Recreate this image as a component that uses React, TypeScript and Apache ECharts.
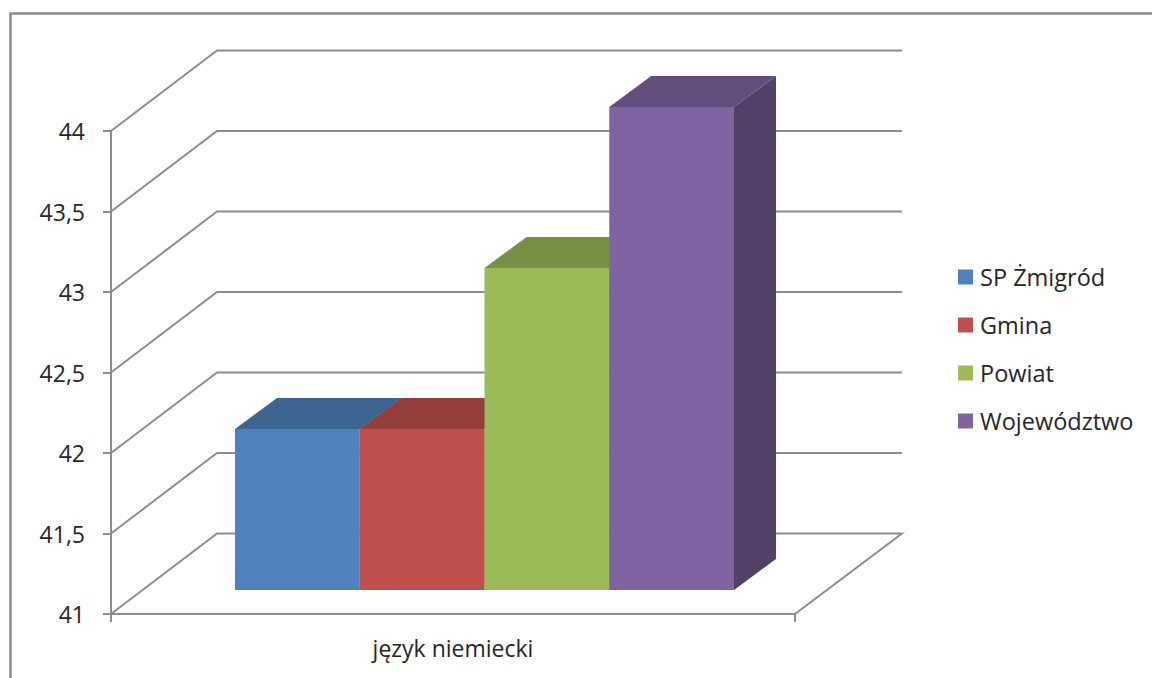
import React, { useEffect, useRef } from "react";
import * as echarts from "echarts";

const categories = ["język niemiecki"];
const seriesNames = ["SP Żmigród", "Gmina", "Powiat", "Województwo"];
const seriesValues = [42, 42, 43, 44];
const frontColors = ["#4F81BD", "#C0504D", "#9BBB59", "#8064A2"];
const topColors = ["#3D6391", "#943E3B", "#779045", "#634D7D"];
const sideColors = ["#324F74", "#7B3331", "#627738", "#524067"];
const wallTicks = [41, 41.5, 42, 42.5, 43, 43.5, 44];

const LINE = "#8C8C8C";
const TEXT = "#262626";
const FONT = "Open Sans";
const WALL_DX = 106;
const WALL_DY = -80.5;
const BAR_DX = 42;
const BAR_DY = -31;
const BAR_LIFT = -24;
const BAR_W = 124.75;
const BAR_SHIFT = 31.5;

export default function App() {
  const ref = useRef<HTMLDivElement>(null);
  useEffect(() => {
    const chart = echarts.init(ref.current!, null, { renderer: "svg" });
    const wallSeries = {
      type: "custom",
      name: "walls",
      silent: true,
      clip: false,
      z: 1,
      encode: { x: 0, y: 1 },
      data: wallTicks.map((v) => [0, v]),
      renderItem: (params: any, api: any) => {
        const y = api.coord([0, api.value(1)])[1];
        const g = params.coordSys;
        const right = g.x + g.width;
        const pts: number[][] = [
          [g.x, y],
          [g.x + WALL_DX, y + WALL_DY],
          [right + WALL_DX + 1, y + WALL_DY],
        ];
        if (api.value(1) === wallTicks[0]) pts.push([right, y]);
        return {
          type: "polyline",
          shape: { points: pts },
          style: { fill: "none", stroke: LINE, lineWidth: 2 },
        };
      },
    };
    const barSeries = seriesNames.map((name, i) => ({
      type: "custom",
      name,
      clip: false,
      z: 2,
      itemStyle: { color: frontColors[i] },
      encode: { x: 0, y: 1 },
      data: [[0, seriesValues[i]]],
      renderItem: (_p: any, api: any) => {
        const c = api.coord([0, api.value(1)]);
        const base = api.coord([0, 41]);
        const x0 = c[0] + BAR_SHIFT - 2 * BAR_W + i * BAR_W;
        const x1 = x0 + BAR_W;
        const top = c[1] + BAR_LIFT;
        const bot = base[1] + BAR_LIFT;
        return {
          type: "group",
          children: [
            {
              type: "polygon",
              shape: { points: [[x1, top], [x1 + BAR_DX, top + BAR_DY], [x1 + BAR_DX, bot + BAR_DY], [x1, bot]] },
              style: { fill: sideColors[i] },
            },
            {
              type: "polygon",
              shape: { points: [[x0, top], [x0 + BAR_DX, top + BAR_DY], [x1 + BAR_DX, top + BAR_DY], [x1, top]] },
              style: { fill: topColors[i] },
            },
            {
              type: "rect",
              shape: { x: x0, y: top, width: BAR_W, height: bot - top },
              style: { fill: frontColors[i] },
            },
          ],
        };
      },
    }));
    chart.setOption({
      animation: false,
      backgroundColor: "#FFFFFF",
      textStyle: { fontFamily: FONT },
      grid: { left: 111, right: 357, top: 131, bottom: 64 },
      xAxis: {
        type: "category",
        data: categories,
        boundaryGap: true,
        axisLine: { lineStyle: { color: LINE, width: 2 } },
        axisTick: { show: true, length: 8, lineStyle: { color: LINE, width: 2 } },
        axisLabel: { color: TEXT, fontSize: 23, fontFamily: FONT, margin: 22 },
      },
      yAxis: {
        type: "value",
        min: 41,
        max: 44,
        interval: 0.5,
        splitLine: { show: false },
        axisLine: { show: true, lineStyle: { color: LINE, width: 2 } },
        axisTick: { show: true, length: 8, lineStyle: { color: LINE, width: 2 } },
        axisLabel: {
          color: TEXT,
          fontSize: 23,
          fontFamily: FONT,
          margin: 26,
          formatter: (v: number) => String(v).replace(".", ","),
        },
      },
      legend: {
        data: seriesNames,
        orient: "vertical",
        left: 953,
        top: 259,
        icon: "rect",
        itemWidth: 15,
        itemHeight: 15,
        itemGap: 22,
        selectedMode: false,
        textStyle: { color: TEXT, fontSize: 23.5, fontFamily: FONT, padding: [0, 0, 0, 2], height: 26, lineHeight: 26 },
      },
      graphic: [
        {
          type: "polyline",
          silent: true,
          shape: { points: [[10.5, 678], [10.5, 13.5], [1152, 13.5]] },
          style: { fill: "none", stroke: "#8A8A8A", lineWidth: 2.5 },
        },
      ],
      series: [wallSeries, ...barSeries],
    });
    return () => chart.dispose();
  }, []);
  return <div ref={ref} style={{ position: "absolute", left: 0, top: 0, width: 1152, height: 678 }} />;
}
